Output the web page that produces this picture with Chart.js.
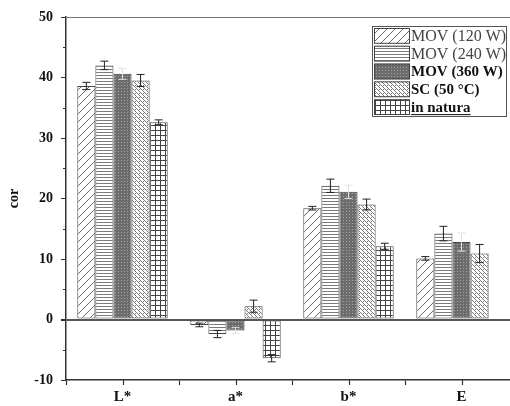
<!DOCTYPE html>
<html>
<head>
<meta charset="utf-8">
<script src="https://cdn.jsdelivr.net/npm/chart.js@4/dist/chart.umd.min.js"></script>
<style>
    html, body { margin: 0; padding: 0; background: #fff; overflow: hidden; }
    #wrap { width: 510px; height: 406px; overflow: hidden; }
</style>
</head>
<body>
<div id="wrap"><canvas id="cor-chart" width="520" height="406"></canvas></div>
<script>
// Data
const categories = ["L*", "a*", "b*", "E"];
const seriesNames = ["MOV (120 W)", "MOV (240 W)", "MOV (360 W)", "SC (50 °C)", "in natura"];
const mov120 = [38.6, -0.9, 18.4, 10.1];
const mov240 = [42.0, -2.4, 22.1, 14.2];
const mov360 = [40.6, -1.8, 21.1, 12.8];
const sc50 = [39.5, 2.2, 19.0, 10.9];
const inNatura = [32.6, -6.4, 12.1, null];
const err120 = [0.6, 0.3, 0.3, 0.3];
const err240 = [0.7, 0.6, 1.1, 1.2];
const err360 = [0.9, 0.5, 1.1, 1.5];
const errSc = [1.0, 1.0, 0.9, 1.5];
const errNatura = [0.4, 0.6, 0.5, null];
const yTicks = [-10, 0, 10, 20, 30, 40, 50];

const FONT = "'Liberation Serif', 'Times New Roman', serif";

function makePattern(w, h, draw) {
    const c = document.createElement("canvas");
    c.width = w;
    c.height = h;
    const g = c.getContext("2d");
    draw(g);
    return g.createPattern(c, "repeat");
}

// ================================
// Fill patterns
// ================================
const Patterns = {
    diag: makePattern(8, 8, (g) => {
        g.fillStyle = "#fff";
        g.fillRect(0, 0, 8, 8);
        g.strokeStyle = "#6a6a6a";
        g.lineWidth = 1;
        g.beginPath();
        g.moveTo(0, 8); g.lineTo(8, 0);
        g.moveTo(-1, 1); g.lineTo(1, -1);
        g.moveTo(7, 9); g.lineTo(9, 7);
        g.stroke();
    }),
    horiz: makePattern(4, 3, (g) => {
        g.fillStyle = "#fff";
        g.fillRect(0, 0, 4, 3);
        g.fillStyle = "#7a7a7a";
        g.fillRect(0, 0, 4, 1);
    }),
    dots: makePattern(3, 3, (g) => {
        g.fillStyle = "#6c6c6c";
        g.fillRect(0, 0, 3, 3);
        g.fillStyle = "#a4a4a4";
        g.fillRect(1, 1, 1, 1);
    }),
    dense: makePattern(4, 4, (g) => {
        g.fillStyle = "#fff";
        g.fillRect(0, 0, 4, 4);
        g.fillStyle = "#7a7a7a";
        for (let i = 0; i < 4; i++) g.fillRect(i, i, 1, 1);
        g.fillRect(3, 1, 1, 1);
    }),
    grid: makePattern(5, 5, (g) => {
        g.fillStyle = "#fff";
        g.fillRect(0, 0, 5, 5);
        g.fillStyle = "#444";
        g.fillRect(0, 0, 5, 1);
        g.fillRect(0, 0, 1, 5);
    }),
};

const datasets = [
    { label: seriesNames[0], data: mov120, errors: err120, backgroundColor: Patterns.diag, errColor: "#222", bold: false },
    { label: seriesNames[1], data: mov240, errors: err240, backgroundColor: Patterns.horiz, errColor: "#222", bold: false },
    { label: seriesNames[2], data: mov360, errors: err360, backgroundColor: Patterns.dots, errColor: "#e0e0e0", bold: true },
    { label: seriesNames[3], data: sc50, errors: errSc, backgroundColor: Patterns.dense, errColor: "#222", bold: true },
    { label: seriesNames[4], data: inNatura, errors: errNatura, backgroundColor: Patterns.grid, errColor: "#222", bold: true, underline: true },
].map((d) => ({
    ...d,
    borderColor: "#444",
    borderWidth: 1,
    borderSkipped: false,
    categoryPercentage: 0.8,
    barPercentage: 1.0,
}));

// Error bars
const errorBars = {
    id: "errorBars",
    afterDatasetsDraw(chart) {
        const { ctx } = chart;
        const yScale = chart.scales.y;
        chart.data.datasets.forEach((ds, i) => {
            const meta = chart.getDatasetMeta(i);
            meta.data.forEach((bar, j) => {
                const v = ds.data[j];
                const e = ds.errors[j];
                if (v == null || e == null) return;
                const yTop = yScale.getPixelForValue(v + e);
                const yBot = yScale.getPixelForValue(v - e);
                ctx.save();
                ctx.strokeStyle = ds.errColor;
                ctx.lineWidth = 1;
                ctx.beginPath();
                ctx.moveTo(bar.x, yTop); ctx.lineTo(bar.x, yBot);
                ctx.moveTo(bar.x - 4, yTop); ctx.lineTo(bar.x + 4, yTop);
                ctx.moveTo(bar.x - 4, yBot); ctx.lineTo(bar.x + 4, yBot);
                ctx.stroke();
                ctx.restore();
            });
        });
    },
};

// Extra tick marks: x centers, y minor
const axisExtras = {
    id: "axisExtras",
    afterDraw(chart) {
        const { ctx, chartArea } = chart;
        const x = chart.scales.x;
        const y = chart.scales.y;
        ctx.save();
        ctx.strokeStyle = "#333";
        ctx.lineWidth = 1.2;
        ctx.beginPath();
        categories.forEach((c, i) => {
            const px = Math.round(x.getPixelForValue(i)) + 0.5;
            ctx.moveTo(px, chartArea.bottom);
            ctx.lineTo(px, chartArea.bottom + 5);
        });
        for (let k = 0; k < yTicks.length - 1; k++) {
            const py = Math.round(y.getPixelForValue((yTicks[k] + yTicks[k + 1]) / 2)) + 0.5;
            ctx.moveTo(chartArea.left - 3, py);
            ctx.lineTo(chartArea.left, py);
        }
        ctx.stroke();
        ctx.restore();
    },
};

// Legend with pattern swatches
const patternLegend = {
    id: "patternLegend",
    afterDraw(chart) {
        const { ctx } = chart;
        const left = 372, top = 26, w = 134, rowH = 17.8;
        const h = rowH * datasets.length + 1;
        ctx.save();
        ctx.fillStyle = "#fff";
        ctx.fillRect(left, top, w, h);
        ctx.strokeStyle = "#555";
        ctx.lineWidth = 1;
        ctx.strokeRect(left + 0.5, top + 0.5, w, h);
        chart.data.datasets.forEach((ds, i) => {
            const ry = top + 2 + i * rowH;
            ctx.fillStyle = ds.backgroundColor;
            ctx.fillRect(left + 2, ry, 36, rowH - 2);
            ctx.strokeStyle = "#444";
            ctx.strokeRect(left + 2.5, ry + 0.5, 35, rowH - 3);
            ctx.fillStyle = ds.bold ? "#111" : "#444";
            ctx.font = (ds.bold ? "bold 15px " : "16px ") + FONT;
            ctx.textBaseline = "middle";
            ctx.textAlign = "left";
            const tx = left + 39;
            const ty = ry + rowH / 2;
            ctx.fillText(ds.label, tx, ty);
            if (ds.underline) {
                const tw = ctx.measureText(ds.label).width;
                ctx.fillRect(tx, ty + 6, tw, 1);
            }
        });
        ctx.restore();
    },
};

function initializeChart() {
    const ctx = document.getElementById("cor-chart").getContext("2d");
    new Chart(ctx, {
        type: "bar",
        data: { labels: categories, datasets },
        options: {
            responsive: false,
            animation: false,
            layout: { padding: { top: 17, right: 2, left: 0, bottom: 0 } },
            plugins: {
                legend: { display: false },
                tooltip: { enabled: false },
            },
            scales: {
                x: {
                    offset: true,
                    grid: {
                        offset: true,
                        drawOnChartArea: false,
                        tickLength: 5,
                        tickColor: "#333",
                        tickWidth: 1.2,
                    },
                    border: { display: true, color: "#333", width: 1.5 },
                    ticks: {
                        color: "#111",
                        padding: 3,
                        font: { family: FONT, size: 15, weight: "bold" },
                    },
                    afterFit: (scale) => { scale.height = 26; },
                },
                y: {
                    min: -10,
                    max: 50,
                    afterBuildTicks: (scale) => { scale.ticks = yTicks.map((v) => ({ value: v })); },
                    grid: {
                        color: (c) => c.tick && c.tick.value === 0 ? "#555" : (c.tick && c.tick.value === 50 ? "#777" : "transparent"),
                        lineWidth: (c) => c.tick && c.tick.value === 0 ? 2 : 1,
                        tickColor: "#333",
                        tickLength: 5,
                    },
                    border: { display: true, color: "#333", width: 1.5 },
                    ticks: {
                        color: "#111",
                        padding: 8,
                        font: { family: FONT, size: 14, weight: "bold" },
                    },
                    title: {
                        display: true,
                        text: "cor",
                        color: "#111",
                        padding: { top: 6, bottom: 0 },
                        font: { family: FONT, size: 14, weight: "bold" },
                    },
                    afterFit: (scale) => { scale.width = 66; },
                },
            },
        },
        plugins: [errorBars, axisExtras, patternLegend],
    });
}

document.addEventListener("DOMContentLoaded", initializeChart);
</script>
</body>
</html>
